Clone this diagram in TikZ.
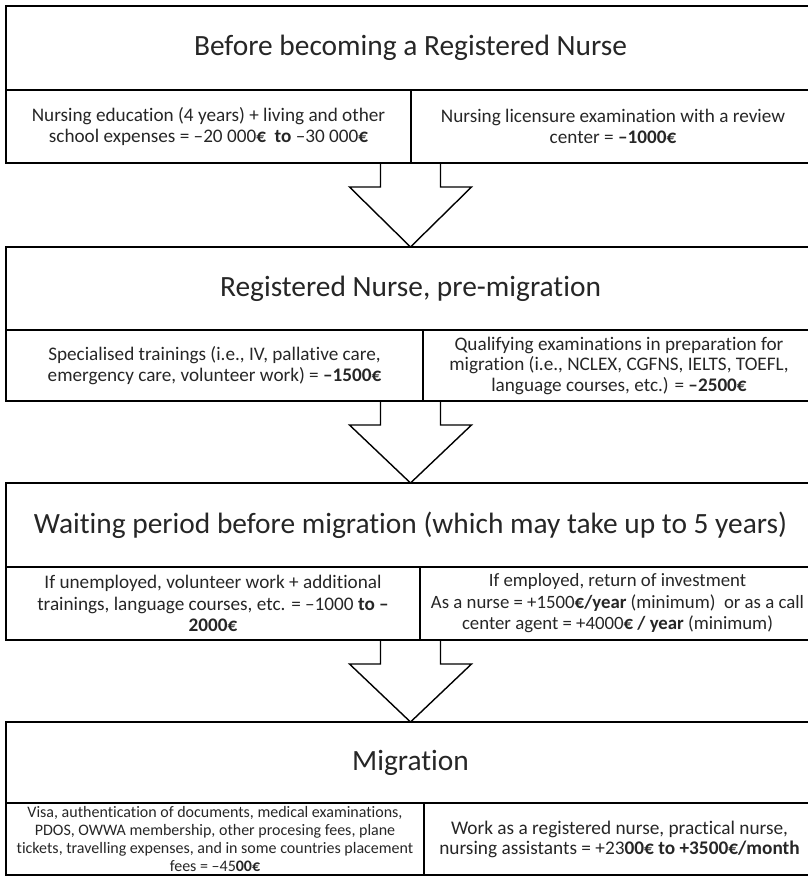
\documentclass[tikz,border=0pt]{standalone}
\usepackage{fontspec}
\setmainfont{Carlito}[Ligatures={TeX,NoCommon}]
\usetikzlibrary{positioning,calc}

\begin{document}
\begin{tikzpicture}[x=1pt,y=1pt,node distance=0pt,
    box/.style={draw,line width=1.8pt,inner sep=0pt,outer sep=0pt,align=center,text=black!85},
    stage/.style={box,minimum width=809pt,font=\fontsize{29.4}{34}\selectfont},
    cost/.style={box,font=\fontsize{19.2}{20.5}\selectfont},
    fatarrow/.style={draw,line width=1.4pt,line join=miter,to path={
      ($(\tikztostart)+(-30,0)$) -- ++(0,-24) -- ++(-31,0) -- (\tikztotarget)
      -- ($(\tikztostart)+(61,-24)$) -- ++(-31,0) -- ($(\tikztostart)+(30,0)$)}}]
  \useasboundingbox (0,0) rectangle (807,-878);

  % Before becoming a registered nurse
  \node[stage,minimum height=84pt] (T1) at (410.5,-48) {Before becoming a Registered Nurse};
  \node[cost,minimum width=405pt,minimum height=73pt] (L1) [below right=0pt and 0pt of T1.south west]
    {Nursing education (4 years) + living and other\\school expenses = --20 000\textbf{€}~ \textbf{to} --30 000\textbf{€}};
  \node[cost,minimum width=404pt,minimum height=73pt] (R1) [right=of L1]
    {Nursing licensure examination with a review\\center = \textbf{--1000€}};
  \coordinate (A1) at (T1.south |- L1.south);

  % Registered nurse, pre-migration
  \node[stage,minimum height=83pt] (T2) [below=84pt of A1] {Registered Nurse, pre-migration};
  \node[cost,minimum width=417pt,minimum height=71pt] (L2) [below right=0pt and 0pt of T2.south west]
    {Specialised trainings (i.e., IV, pallative care,\\emergency care, volunteer work) = \textbf{--1500€}};
  \node[cost,minimum width=392pt,minimum height=71pt] (R2) [right=of L2]
    {Qualifying examinations in preparation for\\migration (i.e., NCLEX, CGFNS, IELTS, TOEFL,\\language courses, etc.) = \textbf{--2500€}};
  \coordinate (A2) at (T2.south |- L2.south);

  % Waiting period
  \node[stage,minimum height=84pt] (T3) [below=82pt of A2] {Waiting period before migration (which may take up to 5 years)};
  \node[cost,minimum width=414pt,minimum height=73pt,font=\fontsize{19.2}{21.5}\selectfont] (L3) [below right=0pt and 0pt of T3.south west]
    {If unemployed, volunteer work + additional\\trainings, language courses, etc. = --1000 \textbf{to --}\\\textbf{2000€}};
  \node[cost,minimum width=395pt,minimum height=73pt,font=\fontsize{18.8}{21.5}\selectfont] (R3) [right=of L3]
    {If employed, return of investment\\As a nurse = +1500\textbf{€/year} (minimum)~ or as a call\\center agent = +4000\textbf{€ / year} (minimum)};
  \coordinate (A3) at (T3.south |- L3.south);

  % Migration
  \node[stage,minimum height=81pt] (T4) [below=82pt of A3] {Migration};
  \node[cost,minimum width=418pt,minimum height=72pt,font=\fontsize{16}{18}\selectfont] (L4) [below right=0pt and 0pt of T4.south west]
    {Visa, authentication of documents, medical examinations,\\PDOS, OWWA membership, other procesing fees, plane\\tickets, travelling expenses, and in some countries placement\\fees = --45\textbf{00€}};
  \node[cost,minimum width=391pt,minimum height=72pt,font=\fontsize{19.3}{20}\selectfont] (R4) [right=of L4]
    {Work as a registered nurse, practical nurse,\\nursing assistants = +23\textbf{00€ to +3500€/month}};

  \path (A1) edge[fatarrow] (T2.north)
        (A2) edge[fatarrow] (T3.north)
        (A3) edge[fatarrow] (T4.north);
\end{tikzpicture}
\end{document}
